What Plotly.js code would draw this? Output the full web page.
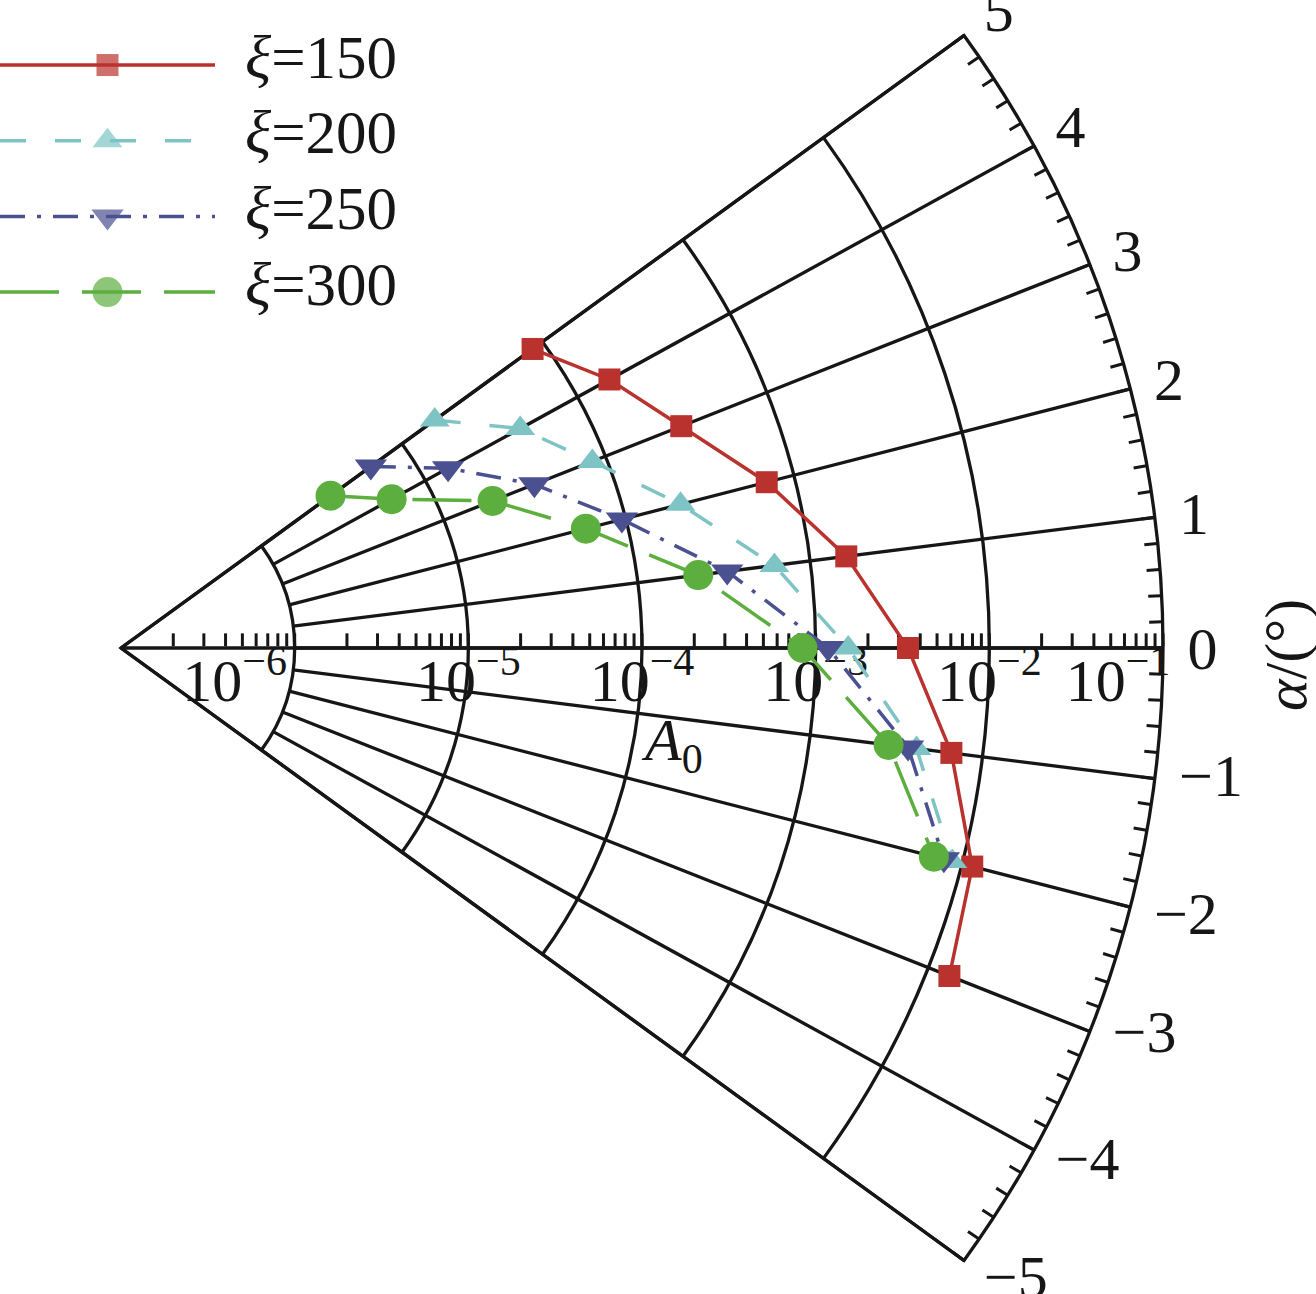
<!DOCTYPE html>
<html><head><meta charset="utf-8">
<script src="https://cdn.plot.ly/plotly-3.0.1.min.js"></script>
<style>html,body{margin:0;padding:0;background:#fff}</style>
</head><body><div id="chart" style="width:1316px;height:1294px"></div>
<script>
// ---------------- data ----------------
const alphaTickLabels = [-5,-4,-3,-2,-1,0,1,2,3,4,5];      // angular axis α/(°)
const radialDecades = [-6,-5,-4,-3,-2,-1];                  // radial axis A0 exponents (log10)
const xiValues = ['150','200','250','300'];                 // legend ξ values

const alpha150 = [5,4,3,2,1,0,-1,-2,-3];
const A150     = [8.5e-5,1.62e-4,2.95e-4,6.9e-4,1.62e-3,3.4e-3,6.6e-3,1.15e-2,1.35e-2];
const alpha200 = [5,4,3,2,1,0,-1,-2];
const A200     = [1.71e-5,4.2e-5,8.3e-5,2.12e-4,6.2e-4,1.54e-3,4.14e-3,8.75e-3];
const alpha250 = [5,4,3,2,1,0,-1,-2];
const A250     = [6.0e-6,1.41e-5,3.63e-5,9.5e-5,3.3e-4,1.18e-3,3.7e-3,7.8e-3];
const alpha300 = [5,4,3,2,1,0,-1,-2];
const A300     = [3.1e-6,6.0e-6,2.0e-5,5.8e-5,2.24e-4,8.4e-4,2.85e-3,6.8e-3];

// ---------------- styling ----------------
const W = 1316, H = 1294;
const FONT = 'Liberation Serif, Times New Roman, serif';
const TICK_SIZE = 60;
const ink = '#161616';
const GW = 3.3;                    // grid / axis line width
const DEG_PER_UNIT = 7.2;          // sector ±36° shows α = ±5
const RAD_LABEL_LIFT = 8;          // px the radial labels sit higher than Plotly's default
const styles = [
  {color:'#b9322d', dash:'solid',               symbol:'square',        size:22},
  {color:'#7ec4c4', dash:'26px,29px',           symbol:'triangle-up',   size:26},
  {color:'#4b5091', dash:'25px,12px,4px,12px',  symbol:'triangle-down', size:28},
  {color:'#5cae3e', dash:'59px,23px',           symbol:'circle',        size:30}
];
const seriesAlpha = [alpha150, alpha200, alpha250, alpha300];
const seriesA = [A150, A200, A250, A300];

const dom = {x:[121/W, 1163/W], y:[1-1260.5/H, 1-35.5/H]};
const lifted = px => ({x:dom.x, y:[dom.y[0]+px/H, dom.y[1]+px/H]});
const sector = [-36, 36];
const minA = alphaTickLabels[0], maxA = alphaTickLabels[alphaTickLabels.length-1];

// radial ticks (minor 2..9 in each decade), labels on decades
const rTickVals = [];
const lo = radialDecades[0]-1, hi = radialDecades[radialDecades.length-1];
for (let e = lo; e <= hi; e++) {
  for (let m = 1; m <= 9; m++) {
    if (e === lo && m === 1) continue;
    if (e === hi && m > 1) break;
    rTickVals.push(m*Math.pow(10, e));
  }
}
const rLabelVals = radialDecades.map(e => Math.pow(10, e));
const rLabelText = radialDecades.map(e => {
  let pad = '';
  if (e === radialDecades[0]) pad = '\u00a0'.repeat(8);
  if (e === hi) pad = '\u00a0'.repeat(6);
  return '10<sup>\u2212' + (-e) + '</sup>' + pad;
});
// angular minor ticks every 0.2 units
const aMinorVals = [];
for (let i = minA*5; i <= maxA*5; i++) aMinorVals.push(i*DEG_PER_UNIT/5);
const fmtA = v => v < 0 ? '\u2212' + (-v) : String(v);
const posLabels = alphaTickLabels.filter(v => v >= 0);
const negLabelsNear = alphaTickLabels.filter(v => v < 0 && v >= -2);
const negLabelsFar  = alphaTickLabels.filter(v => v < -2);
const spokeVals = alphaTickLabels.filter(v => v > minA && v < maxA).map(v => v*DEG_PER_UNIT);

const traces = [];
// placeholder traces so that the grid/tick/label subplots are created (drawn below the data)
['polar','polar2','polar3','polar4','polar5','polar6'].forEach(sp =>
  traces.push({type:'scatterpolar', subplot:sp, r:[], theta:[], showlegend:false, hoverinfo:'skip'}));
// data
seriesA.forEach((A, k) => {
  const s = styles[k];
  traces.push({
    type:'scatterpolar', subplot:'polar7',
    r: A, theta: seriesAlpha[k].map(a => a*DEG_PER_UNIT),
    mode:'lines+markers', name:'ξ=' + xiValues[k],
    line:{color:s.color, width:3.5, dash:s.dash},
    marker:{color:s.color, symbol:s.symbol, size:s.size, line:{width:0}},
    cliponaxis:false, showlegend:false
  });
});
// custom legend (long sample lines)
xiValues.forEach((v, k) => {
  const s = styles[k];
  traces.push({
    type:'scatter', xaxis:'x', yaxis:'y',
    x:[0,0.5,1], y:[k,k,k], mode:'lines+markers',
    line:{color:s.color, width:3.5, dash:s.dash},
    marker:{color:s.color, symbol:s.symbol, size:[0,s.size,0], line:{width:0}},
    cliponaxis:false, showlegend:false, hoverinfo:'skip'
  });
});

const annotations = xiValues.map((v, k) => ({
  xref:'paper', yref:'y', x:243/W, y:k, xanchor:'left', yanchor:'middle', yshift:8,
  text:'<i>ξ</i>=' + v, showarrow:false, font:{family:FONT, size:61, color:ink}
}));
annotations.push({xref:'paper', yref:'paper', x:1286/W, y:1-655/H, xanchor:'center', yanchor:'middle',
  text:'<i>α</i>/(°)', textangle:-90, showarrow:false, font:{family:FONT, size:60, color:ink}});
annotations.push({xref:'paper', yref:'paper', x:672/W, y:1-744/H, xanchor:'center', yanchor:'middle',
  text:'<i>A</i><sub>0</sub>', showarrow:false, font:{family:FONT, size:60, color:ink}});

const angBase = {thetaunit:'degrees', direction:'counterclockwise', rotation:0};
const clear = 'rgba(0,0,0,0)';
const tf = {family:FONT, size:TICK_SIZE, color:ink};
const labelPolar = (vals, liftPx) => ({
  domain:lifted(liftPx), sector:sector, bgcolor:clear,
  radialaxis:{visible:false, type:'log', range:[lo, hi]},
  angularaxis:Object.assign({}, angBase, {tickmode:'array',
    tickvals:vals.map(v => v*DEG_PER_UNIT), ticktext:vals.map(fmtA),
    showgrid:false, showline:false, ticks:'outside', ticklen:12, tickcolor:clear, tickfont:tf})
});
const layout = {
  width:W, height:H, margin:{l:0,r:0,t:0,b:0},
  paper_bgcolor:'#fff', plot_bgcolor:clear, showlegend:false,
  font:{family:FONT, color:ink},
  xaxis:{domain:[0, 215/W], range:[0,1], visible:false, fixedrange:true},
  yaxis:{domain:[1-329.9/H, 1-27.2/H], range:[3.5,-0.5], visible:false, fixedrange:true},
  // decade arcs, sector edges and outer arc
  polar:{
    domain:dom, sector:sector, bgcolor:'#fff',
    radialaxis:{type:'log', range:[lo, hi], tickmode:'array',
      tickvals: rLabelVals.slice(0,-1),
      showgrid:true, gridcolor:ink, gridwidth:GW, showticklabels:false, ticks:'', showline:false, angle:0},
    angularaxis:Object.assign({}, angBase, {tickmode:'array', tickvals:sector,
      showgrid:true, gridcolor:ink, gridwidth:GW, showline:true, linecolor:ink, linewidth:GW,
      ticks:'', showticklabels:false})
  },
  // spokes starting at 10^-6
  polar2:{
    domain:dom, sector:sector, hole:1/6, bgcolor:clear,
    radialaxis:{visible:false, type:'log', range:[lo+1, hi]},
    angularaxis:Object.assign({}, angBase, {tickmode:'array', tickvals:spokeVals,
      showgrid:true, gridcolor:ink, gridwidth:GW, showline:false, ticks:'', showticklabels:false})
  },
  // radial axis line with minor ticks + angular minor ticks
  polar3:{
    domain:dom, sector:sector, bgcolor:clear,
    radialaxis:{type:'log', range:[lo, hi], tickmode:'array', tickvals:rTickVals,
      showgrid:false, showline:true, linecolor:ink, linewidth:GW, showticklabels:false,
      ticks:'inside', ticklen:13, tickwidth:3, tickcolor:ink, side:'clockwise', angle:0},
    angularaxis:Object.assign({}, angBase, {tickmode:'array', tickvals:aMinorVals,
      showgrid:false, showline:false, ticks:'inside', ticklen:13, tickwidth:3, tickcolor:ink,
      showticklabels:false})
  },
  // negative angular labels (lifted, more for the lower ones)
  polar4: labelPolar(negLabelsNear, 14),
  polar5: labelPolar(negLabelsFar, 30),
  // radial tick labels (slightly lifted)
  polar6:{
    domain:lifted(RAD_LABEL_LIFT), sector:sector, bgcolor:clear,
    radialaxis:{type:'log', range:[lo, hi], tickmode:'array', tickvals:rLabelVals, ticktext:rLabelText,
      showgrid:false, showline:false, ticks:'', side:'clockwise', angle:0, tickangle:0, tickfont:tf},
    angularaxis:Object.assign({}, angBase, {showgrid:false, showline:false, ticks:'', showticklabels:false})
  },
  // data + non-negative angular labels
  polar7: Object.assign(labelPolar(posLabels, 0), {}),
  annotations: annotations
};

Plotly.newPlot('chart', traces, layout, {staticPlot:true});
</script>
</body></html>
